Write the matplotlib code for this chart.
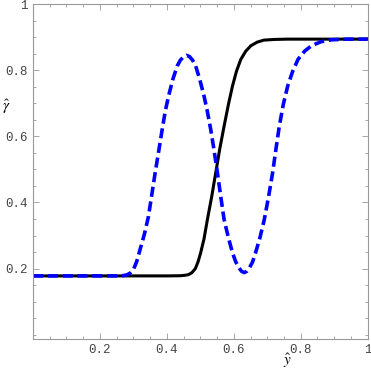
import matplotlib.pyplot as plt
from matplotlib.ticker import MultipleLocator

plt.rcParams["mathtext.fontset"] = "stix"

# black solid curve
y_black = [0.0, 0.10, 0.20, 0.30, 0.40, 0.44, 0.455, 0.465, 0.475, 0.485, 0.493,
           0.501, 0.511, 0.521, 0.534, 0.546, 0.558, 0.571, 0.584, 0.596,
           0.608, 0.621, 0.636, 0.651, 0.670, 0.690, 0.72, 0.76, 0.85, 1.0]
g_black = [0.178, 0.178, 0.178, 0.178, 0.178, 0.1785, 0.180, 0.182, 0.188, 0.200, 0.220,
           0.248, 0.290, 0.348, 0.418, 0.490, 0.562, 0.631, 0.697, 0.752,
           0.797, 0.833, 0.858, 0.874, 0.885, 0.891, 0.893, 0.894, 0.894, 0.894]

# blue dashed curve
y_blue = [0.0, 0.10, 0.20, 0.26, 0.27, 0.28, 0.29, 0.30, 0.31, 0.32, 0.333,
          0.345, 0.355, 0.365, 0.376, 0.386, 0.395, 0.405, 0.418, 0.431,
          0.440, 0.450, 0.459, 0.468, 0.477, 0.486, 0.498, 0.511, 0.521,
          0.531, 0.541, 0.551, 0.561, 0.571, 0.584, 0.596, 0.606, 0.615,
          0.623, 0.631, 0.639, 0.647, 0.656, 0.665, 0.678, 0.691, 0.704,
          0.716, 0.726, 0.736, 0.748, 0.761, 0.776, 0.792, 0.812, 0.832,
          0.86, 0.892, 0.94, 1.0]
g_blue = [0.178, 0.178, 0.178, 0.178, 0.179, 0.181, 0.186, 0.197, 0.222, 0.258, 0.305,
          0.358, 0.424, 0.490, 0.558, 0.621, 0.675, 0.722, 0.773, 0.813,
          0.830, 0.841, 0.845, 0.841, 0.830, 0.813, 0.773, 0.722, 0.675,
          0.621, 0.558, 0.490, 0.418, 0.348, 0.293, 0.248, 0.220, 0.203,
          0.192, 0.188, 0.192, 0.203, 0.220, 0.248, 0.293, 0.348, 0.418,
          0.490, 0.562, 0.631, 0.697, 0.752, 0.797, 0.833, 0.858, 0.874,
          0.886, 0.892, 0.894, 0.894]

frame = "#999999"

fig = plt.figure(figsize=(3.71, 3.71), dpi=100)
ax = fig.add_axes([0.089, 0.087, 0.902, 0.902])

ax.plot(y_black, g_black, color="black", lw=2.2, solid_joinstyle="round")
ax.plot(y_blue, g_blue, color="#0000ff", lw=2.6, dashes=(2.8, 1.3),
        dash_joinstyle="round")

ax.set_xlim(0, 1)
ax.set_ylim(-0.012, 1)

ax.set_xticks([0.2, 0.4, 0.6, 0.8, 1.0])
ax.set_xticklabels(["0.2", "0.4", "0.6", "0.8", "1"])
ax.set_yticks([0.2, 0.4, 0.6, 0.8, 1.0])
ax.set_yticklabels(["0.2", "0.4", "0.6", "0.8", "1"])
ax.xaxis.set_minor_locator(MultipleLocator(0.05))
ax.yaxis.set_minor_locator(MultipleLocator(0.05))

ax.tick_params(which="both", direction="in", top=True, right=True,
               color=frame, width=0.6)
ax.tick_params(which="major", length=4, labelsize=9, labelcolor="#444444", pad=4)
ax.tick_params(which="minor", length=2)
for lab in ax.get_xticklabels() + ax.get_yticklabels():
    lab.set_family("Liberation Mono")

for s in ax.spines.values():
    s.set_color(frame)
    s.set_linewidth(0.8)

fig.text(0.775, 0.052, r"$\hat{y}$", fontsize=11, ha="center", va="top")
fig.text(0.016, 0.712, r"$\hat{\gamma}$", fontsize=11, ha="center", va="center")

fig.savefig("out.png", dpi=100)
